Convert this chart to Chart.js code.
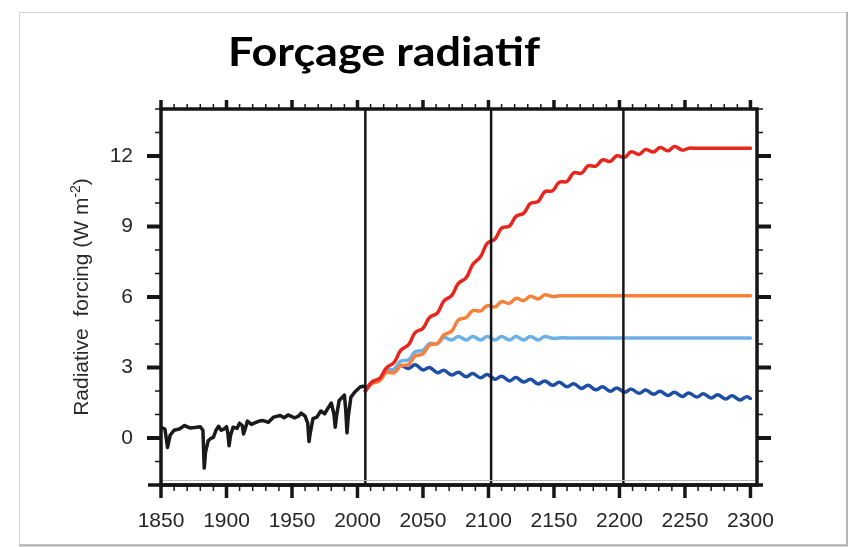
<!DOCTYPE html>
<html>
<head>
<meta charset="utf-8">
<script src="https://cdn.jsdelivr.net/npm/chart.js@4.4.1/dist/chart.umd.min.js"></script>
<style>
  html, body { margin: 0; padding: 0; background: #fff; }
  #wrap { position: relative; width: 852px; height: 547px; }
</style>
</head>
<body>
<div id="wrap"><canvas id="forcing" width="852" height="547"></canvas></div>
<script>
// historical forcing (black)
var histYears = [1850, 1853, 1855, 1857, 1860, 1864, 1868, 1872, 1876, 1880, 1882, 1883, 1884, 1886, 1888,
    1890, 1892, 1894, 1896, 1898, 1900, 1901, 1902, 1903, 1905, 1908, 1910, 1912, 1913, 1914, 1916, 1919,
    1922, 1925, 1928, 1932, 1936, 1941, 1944, 1947, 1952, 1955, 1957, 1960, 1962, 1963, 1964, 1966, 1969,
    1972, 1975, 1977, 1980, 1982, 1983, 1984, 1986, 1989, 1990, 1991, 1992, 1993, 1995, 1998, 2002, 2004, 2006];
var histForcing = [0.45, 0.38, -0.4, 0.12, 0.33, 0.38, 0.53, 0.43, 0.45, 0.48, 0.33, -1.28, -0.6, -0.12, -0.02,
    0.03, 0.33, 0.5, 0.33, 0.38, 0.48, 0.23, -0.33, 0.08, 0.46, 0.41, 0.63, 0.53, 0.17, 0.33, 0.72, 0.58,
    0.65, 0.72, 0.74, 0.67, 0.89, 0.96, 0.86, 0.98, 0.86, 0.93, 1.06, 0.93, 0.63, -0.15, 0.23, 0.82, 0.89,
    1.15, 1.03, 1.23, 1.49, 1.03, 0.46, 0.93, 1.6, 1.77, 1.83, 1.23, 0.22, 0.93, 1.74, 1.96, 2.17, 2.2, 2.17];

// scenario years (solar-cycle half steps)
var futureYears = [2006, 2011, 2017, 2022, 2028, 2033, 2039, 2044, 2050, 2055, 2061, 2066, 2072, 2077, 2083,
    2088, 2094, 2099, 2105, 2110, 2116, 2121, 2127, 2132, 2138, 2143, 2149, 2154, 2160, 2165, 2171, 2176,
    2182, 2187, 2193, 2198, 2204, 2209, 2215, 2220, 2226, 2231, 2237, 2242, 2248, 2253, 2259, 2264, 2270,
    2275, 2281, 2286, 2292, 2297, 2300];
var rcp85 = [2.0, 2.38, 2.54, 2.98, 3.22, 3.73, 3.97, 4.48, 4.67, 5.13, 5.32, 5.83, 6.07, 6.58, 6.82,
    7.38, 7.72, 8.28, 8.47, 8.93, 9.02, 9.43, 9.57, 9.98, 10.07, 10.48, 10.52, 10.88, 10.92, 11.28, 11.27, 11.58,
    11.57, 11.83, 11.77, 12.01, 11.94, 12.18, 12.07, 12.28, 12.17, 12.36, 12.22, 12.4, 12.25, 12.33, 12.33, 12.33, 12.33,
    12.33, 12.33, 12.33, 12.33, 12.33, 12.33];
var rcp6 = [2.0, 2.32, 2.43, 2.79, 2.78, 3.07, 3.13, 3.49, 3.58, 3.95, 4.03, 4.39, 4.55, 5.02, 5.13,
    5.42, 5.41, 5.63, 5.58, 5.8, 5.73, 5.94, 5.85, 6.03, 5.92, 6.09, 6.02, 6.05, 6.05, 6.05, 6.05, 6.05,
    6.05, 6.05, 6.05, 6.05, 6.05, 6.05, 6.05, 6.05, 6.05, 6.05, 6.05, 6.05, 6.05, 6.05, 6.05, 6.05, 6.05,
    6.05, 6.05, 6.05, 6.05, 6.05, 6.05];
var rcp45 = [2.0, 2.37, 2.48, 2.87, 2.93, 3.27, 3.33, 3.67, 3.73, 4.02, 4.01, 4.27, 4.17, 4.32, 4.17,
    4.32, 4.17, 4.32, 4.17, 4.32, 4.17, 4.32, 4.17, 4.32, 4.17, 4.32, 4.24, 4.26, 4.26, 4.26, 4.26, 4.26,
    4.26, 4.26, 4.26, 4.26, 4.26, 4.26, 4.26, 4.26, 4.26, 4.26, 4.26, 4.26, 4.26, 4.26, 4.26, 4.26, 4.26,
    4.26, 4.26, 4.26, 4.26, 4.26, 4.26];
var rcp26 = [2.0, 2.38, 2.47, 2.83, 2.84, 3.08, 2.96, 3.12, 2.9, 3.0, 2.78, 2.88, 2.68, 2.8, 2.61,
    2.74, 2.56, 2.7, 2.5, 2.63, 2.43, 2.57, 2.38, 2.5, 2.3, 2.43, 2.24, 2.37, 2.18, 2.31, 2.11, 2.24,
    2.05, 2.18, 1.99, 2.13, 1.95, 2.08, 1.9, 2.04, 1.86, 1.99, 1.81, 1.95, 1.77, 1.92, 1.74, 1.88, 1.7,
    1.84, 1.66, 1.8, 1.62, 1.76, 1.68];

var xTicks = [1850, 1900, 1950, 2000, 2050, 2100, 2150, 2200, 2250, 2300];
var yTicks = [0, 3, 6, 9, 12];
var markerYears = [2006, 2102, 2203];

var frameColor = '#161616';
var labelFont = {family: 'Liberation Sans', size: 21};

function pts(xs, ys) {
    return xs.map(function (x, i) { return {x: x, y: ys[i]}; });
}

function seg(ctx, x1, y1, x2, y2) {
    ctx.beginPath();
    ctx.moveTo(x1, y1);
    ctx.lineTo(x2, y2);
    ctx.stroke();
}

var framePlugin = {
    id: 'frame',
    beforeDraw: function (chart) {
        var ctx = chart.ctx;
        ctx.save();
        ctx.fillStyle = '#fff';
        ctx.fillRect(0, 0, chart.width, chart.height);

        // page border
        ctx.strokeStyle = '#d2d2d2';
        ctx.lineWidth = 1;
        ctx.strokeRect(19.5, 12.5, 827, 532);
        ctx.strokeStyle = '#b2b2b2';
        ctx.lineWidth = 2;
        seg(ctx, 847, 12, 847, 546);
        seg(ctx, 19, 545.5, 848, 545.5);

        // title, stretched to the reference width
        ctx.save();
        ctx.fillStyle = '#000';
        ctx.font = 'bold 40px Lato';
        ctx.textBaseline = 'alphabetic';
        var tw = ctx.measureText('Forçage radiatif').width;
        ctx.translate(228, 66);
        ctx.scale(312 / tw, 1);
        ctx.fillText('Forçage radiatif', 0, 0);
        ctx.restore();

        // y axis title with superscript
        ctx.translate(88, 297);
        ctx.rotate(-Math.PI / 2);
        ctx.fillStyle = '#2a2a2a';
        var main = 'Radiative  forcing (W m', sup = '-2', end = ')';
        ctx.font = '21px "Liberation Sans"';
        var w1 = ctx.measureText(main).width, w3 = ctx.measureText(end).width;
        ctx.font = '14px "Liberation Sans"';
        var w2 = ctx.measureText(sup).width;
        var x0 = -(w1 + w2 + w3) / 2;
        ctx.font = '21px "Liberation Sans"';
        ctx.fillText(main, x0, 0);
        ctx.fillText(end, x0 + w1 + w2, 0);
        ctx.font = '14px "Liberation Sans"';
        ctx.fillText(sup, x0 + w1, -8);
        ctx.restore();
    },
    afterDatasetsDraw: function (chart) {
        var ctx = chart.ctx, a = chart.chartArea, xs = chart.scales.x, ys = chart.scales.y;
        ctx.save();
        ctx.strokeStyle = frameColor;

        // period separators
        ctx.lineWidth = 2.5;
        markerYears.forEach(function (yr) {
            var px = xs.getPixelForValue(yr);
            seg(ctx, px, a.top, px, a.bottom);
        });

        // faint line just above the bottom axis
        ctx.strokeStyle = '#bdbdbd';
        ctx.lineWidth = 1;
        seg(ctx, a.left, a.bottom - 4.5, a.right, a.bottom - 4.5);

        // box
        ctx.strokeStyle = frameColor;
        ctx.lineWidth = 3.5;
        ctx.strokeRect(a.left, a.top, a.right - a.left, a.bottom - a.top);
        seg(ctx, a.left - 13, a.bottom, a.right + 6, a.bottom);

        // x ticks, bottom and top
        for (var yr = 1850; yr <= 2300; yr += 10) {
            var px = xs.getPixelForValue(yr);
            var big = yr % 50 === 0;
            ctx.lineWidth = big ? 3.5 : 1.5;
            seg(ctx, px, a.bottom, px, a.bottom + (big ? 13 : 6));
            seg(ctx, px, a.top, px, a.top - (big ? 9 : 5));
        }
        // y ticks, left and right
        for (var v = -2; v <= 14; v++) {
            var py = ys.getPixelForValue(v);
            var bigY = v % 3 === 0;
            ctx.lineWidth = bigY ? 4 : 1.5;
            seg(ctx, a.left - (bigY ? 14 : 6), py, a.left, py);
            seg(ctx, a.right, py, a.right + (bigY ? 14 : 6), py);
        }
        ctx.restore();
    }
};

var lineW = 3.5;

new Chart(document.getElementById('forcing'), {
    type: 'line',
    data: {
        datasets: [
            {label: 'RCP8.5', data: pts(futureYears, rcp85), borderColor: '#e8261e', borderWidth: lineW, tension: 0.4},
            {label: 'RCP6', data: pts(futureYears, rcp6), borderColor: '#f5813a', borderWidth: lineW, tension: 0.4},
            {label: 'RCP4.5', data: pts(futureYears, rcp45), borderColor: '#6cb0e6', borderWidth: lineW, tension: 0.4},
            {label: 'RCP2.6', data: pts(futureYears, rcp26), borderColor: '#1e4fa6', borderWidth: lineW, tension: 0.4},
            {label: 'Historical', data: pts(histYears, histForcing), borderColor: '#1a1a1a', borderWidth: lineW, tension: 0}
        ]
    },
    options: {
        responsive: false,
        animation: false,
        events: [],
        elements: {point: {radius: 0}, line: {fill: false, borderCapStyle: 'round', borderJoinStyle: 'round'}},
        layout: {padding: {top: 109, right: 95, bottom: 0, left: 0}},
        plugins: {legend: {display: false}, title: {display: false}, tooltip: {enabled: false}},
        scales: {
            x: {
                type: 'linear',
                min: 1850,
                max: 2305,
                afterBuildTicks: function (scale) {
                    scale.ticks = xTicks.map(function (v) { return {value: v}; });
                },
                afterFit: function (scale) { scale.height = 62; },
                grid: {display: false, drawTicks: false},
                border: {display: false},
                ticks: {
                    font: labelFont,
                    color: '#262626',
                    padding: 24,
                    maxRotation: 0,
                    autoSkip: false,
                    callback: function (v) { return String(v); }
                }
            },
            y: {
                min: -2,
                max: 14,
                afterBuildTicks: function (scale) {
                    scale.ticks = yTicks.map(function (v) { return {value: v}; });
                },
                afterFit: function (scale) { scale.width = 161; },
                grid: {display: false, drawTicks: false},
                border: {display: false},
                ticks: {
                    font: labelFont,
                    color: '#262626',
                    padding: 28,
                    callback: function (v) { return String(v); }
                }
            }
        }
    },
    plugins: [framePlugin]
});
</script>
</body>
</html>
